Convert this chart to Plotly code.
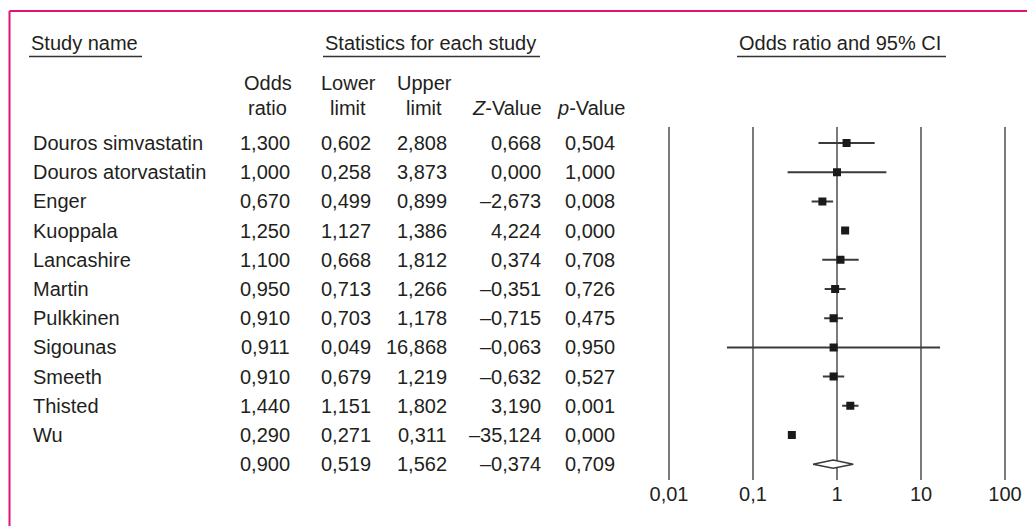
import plotly.graph_objects as go

# ---------------- data ----------------
studies = ["Douros simvastatin", "Douros atorvastatin", "Enger", "Kuoppala",
           "Lancashire", "Martin", "Pulkkinen", "Sigounas", "Smeeth",
           "Thisted", "Wu"]
odds_ratio = [1.300, 1.000, 0.670, 1.250, 1.100, 0.950, 0.910, 0.911, 0.910, 1.440, 0.290]
lower_limit = [0.602, 0.258, 0.499, 1.127, 0.668, 0.713, 0.703, 0.049, 0.679, 1.151, 0.271]
upper_limit = [2.808, 3.873, 0.899, 1.386, 1.812, 1.266, 1.178, 16.868, 1.219, 1.802, 0.311]
z_value = [0.668, 0.000, -2.673, 4.224, 0.374, -0.351, -0.715, -0.063, -0.632, 3.190, -35.124]
p_value = [0.504, 1.000, 0.008, 0.000, 0.708, 0.726, 0.475, 0.950, 0.527, 0.001, 0.000]

summary_or = 0.900
summary_lower = 0.519
summary_upper = 1.562
summary_z = -0.374
summary_p = 0.709

tick_vals = [0.01, 0.1, 1, 10, 100]
tick_labels = ["0,01", "0,1", "1", "10", "100"]

# ---------------- layout helpers ----------------
W, H = 1027, 526
OX, OY = 0, 0          # page body margin removed below, figure sits at (0, 0)
FONT = "Liberation Sans, Arial, Helvetica, sans-serif"
TXT = "#231f20"
FS = 20


def px(xs):
    return (xs - OX) / W


def py(ys):
    return 1 - (ys - OY) / H


def fmt(v):
    s = f"{abs(v):.3f}".replace(".", ",")
    return ("\u2013" + s) if v < 0 else s


n = len(studies)
rows = list(range(n))
sum_row = n

fig = go.Figure()

# CI lines
xs, ys = [], []
for i in rows:
    xs += [lower_limit[i], upper_limit[i], None]
    ys += [i, i, None]
fig.add_trace(go.Scatter(x=xs, y=ys, mode="lines",
                         line=dict(color="#3a3a3a", width=2),
                         hoverinfo="skip", showlegend=False))

# point estimates
fig.add_trace(go.Scatter(x=odds_ratio, y=rows, mode="markers",
                         marker=dict(symbol="square", size=8, color="#1a1a1a",
                                     line=dict(width=0)),
                         showlegend=False))

# summary diamond
dh = 0.14
fig.add_trace(go.Scatter(
    x=[summary_lower, summary_or, summary_upper, summary_or, summary_lower],
    y=[sum_row, sum_row - dh, sum_row, sum_row + dh, sum_row],
    mode="lines", fill="toself", fillcolor="white",
    line=dict(color="#3a3a3a", width=1.5), showlegend=False, hoverinfo="skip"))

# ---------------- axes ----------------
fig.update_xaxes(type="log", range=[-2.02, 2.02],
                 domain=[px(667.32), px(1006.68)],
                 tickvals=tick_vals, ticktext=tick_labels,
                 showgrid=True, gridcolor="#7a7a7a", gridwidth=2,
                 zeroline=False, showline=False, ticks="", automargin=False,
                 tickfont=dict(family=FONT, size=FS, color=TXT))
fig.update_yaxes(range=[11.5411, -0.5479],
                 domain=[py(480), py(127)],
                 showgrid=False, zeroline=False, showline=False,
                 showticklabels=False, ticks="", automargin=False)

ann = []

# study rows
for i in rows:
    ann.append(dict(x=px(31), y=i, xref="paper", yref="y", text=studies[i],
                    xanchor="left", yanchor="middle", showarrow=False))
cols_right = [292, 373, 449, 543, 617]
for i in rows:
    vals = [odds_ratio[i], lower_limit[i], upper_limit[i], z_value[i], p_value[i]]
    for xr, v in zip(cols_right, vals):
        ann.append(dict(x=px(xr), y=i, xref="paper", yref="y", text=fmt(v),
                        xanchor="right", yanchor="middle", showarrow=False))
for xr, v in zip(cols_right, [summary_or, summary_lower, summary_upper, summary_z, summary_p]):
    ann.append(dict(x=px(xr), y=sum_row, xref="paper", yref="y", text=fmt(v),
                    xanchor="right", yanchor="middle", showarrow=False))

# headers
ann.append(dict(x=px(29), y=py(43), xref="paper", yref="paper", text="Study name",
                xanchor="left", yanchor="middle", showarrow=False))
ann.append(dict(x=px(323), y=py(43), xref="paper", yref="paper",
                text="Statistics for each study",
                xanchor="left", yanchor="middle", showarrow=False))
ann.append(dict(x=px(737), y=py(43), xref="paper", yref="paper",
                text="Odds ratio and 95% CI",
                xanchor="left", yanchor="middle", showarrow=False))

for cx, t1, t2 in [(267.5, "Odds", "ratio"), (348, "Lower", "limit"), (424, "Upper", "limit")]:
    ann.append(dict(x=px(cx), y=py(83), xref="paper", yref="paper", text=t1,
                    xanchor="center", yanchor="middle", showarrow=False))
    ann.append(dict(x=px(cx), y=py(108), xref="paper", yref="paper", text=t2,
                    xanchor="center", yanchor="middle", showarrow=False))
ann.append(dict(x=px(544), y=py(108), xref="paper", yref="paper", text="<i>Z</i>-Value",
                xanchor="right", yanchor="middle", showarrow=False))
ann.append(dict(x=px(555), y=py(108), xref="paper", yref="paper", text="<i>p</i>-Value",
                xanchor="left", yanchor="middle", showarrow=False))

shapes = []
# underlines
for a, b in [(29, 142), (323, 540), (737, 946)]:
    shapes.append(dict(type="line", xref="paper", yref="paper",
                       x0=px(a), x1=px(b), y0=py(56.5), y1=py(56.5),
                       line=dict(color="#333333", width=1.5)))
# magenta frame
pink = "#e0137a"
shapes.append(dict(type="line", xref="paper", yref="paper",
                   x0=px(9.5), x1=px(9.5), y0=0, y1=py(11), line=dict(color=pink, width=2)))
shapes.append(dict(type="line", xref="paper", yref="paper",
                   x0=px(9.5), x1=1, y0=py(11), y1=py(11), line=dict(color=pink, width=2)))

fig.update_layout(
    width=W, height=H,
    margin=dict(l=0, r=0, t=0, b=0, autoexpand=False),
    paper_bgcolor="white", plot_bgcolor="white",
    font=dict(family=FONT, size=FS, color=TXT),
    annotations=ann, shapes=shapes,
    showlegend=False,
)

fig.write_html("out.html",
               config={"displayModeBar": False},
               post_script="document.body.style.margin='0';"
                           "document.body.style.overflow='hidden';")
